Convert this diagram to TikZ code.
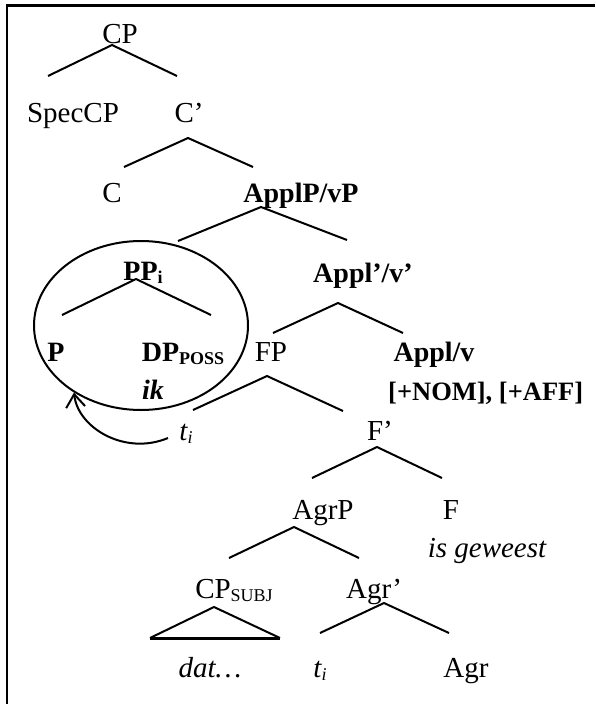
\documentclass[tikz,border=0pt]{standalone}
\usepackage{fontspec}
\setmainfont{Liberation Serif}
\usetikzlibrary{arrows.meta,shapes.geometric}
% lowered small subscript used for indices and category tags
\newcommand{\lowsub}[1]{\raisebox{-3pt}{\fontsize{18}{18}\selectfont #1}}
\begin{document}
\begin{tikzpicture}[x=1pt,y=-1pt,
  lbl/.style={inner sep=0pt, anchor=base, font=\fontsize{29}{34}\selectfont},
  blbl/.style={inner sep=0pt, anchor=base, font=\fontsize{28}{34}\selectfont\bfseries},
  ilbl/.style={inner sep=0pt, anchor=base, font=\fontsize{29}{34}\selectfont\itshape},
  branch/.style={line width=2pt},
  boxline/.style={line width=2.4pt},
  ring/.style={ellipse, draw, line width=2pt, inner sep=0pt,
               minimum width=214pt, minimum height=169pt},
  move/.style={line width=2pt, -{Straight Barb[length=13pt,width=19pt,line width=2pt]}}]
\useasboundingbox (0,0) rectangle (595,704);

% open frame: left and top edges
\draw[boxline] (7,704) -- (7,5.5) -- (595,5.5);

% ---- labels ----
\node[lbl]  (cp)      at (120,43)  {CP};
\node[lbl]  (speccp)  at (73,122)  {SpecCP};
\node[lbl]  (cbar)    at (189,122) {C’};
\node[lbl]  (c)       at (112,202) {C};
\node[blbl] (applp)   at (301,202) {ApplP/vP};
\node[blbl] (pp)      at (143,280) {PP\lowsub{i}};
\node[blbl] (applbar) at (363,282) {Appl’/v’};
\node[blbl] (p)       at (56,361)  {P};
\node[blbl] (dp)      at (183,361) {DP\lowsub{POSS}};
\node[lbl]  (fp)      at (271,361) {FP};
\node[blbl] (applv)   at (434,361) {Appl/v};
\node[blbl, anchor=base west, font=\fontsize{26.5}{32}\selectfont\bfseries] (feat) at (388,400) {[+NOM], [+AFF]};
\node[blbl, font=\fontsize{28}{34}\selectfont\bfseries\itshape] (ik) at (153,399) {ik};
\node[ilbl] (t1)      at (186,440) {t\lowsub{i}};
\node[lbl]  (fbar)    at (380,440) {F’};
\node[lbl]  (agrp)    at (323,519) {AgrP};
\node[lbl]  (f)       at (451,519) {F};
\node[ilbl] (isg)     at (487,557) {is geweest};
\node[lbl]  (cpsubj)  at (234,598) {CP\lowsub{SUBJ}};
\node[lbl]  (agrbar)  at (374,598) {Agr’};
\node[ilbl] (dat)     at (210,677) {dat…};
\node[ilbl] (t2)      at (320,677) {t\lowsub{i}};
\node[lbl]  (agr)     at (466,677) {Agr};

% ---- branch points ----
\coordinate (cpL) at (48,76);   \coordinate (cpA) at (112,45);  \coordinate (cpR) at (177,76);
\coordinate (cbL) at (124,167); \coordinate (cbA) at (188,138); \coordinate (cbR) at (253,167);
\coordinate (apL) at (178,241); \coordinate (apA) at (261,207); \coordinate (apR) at (347,240);
\coordinate (ppL) at (62,315);  \coordinate (ppA) at (136,279); \coordinate (ppR) at (211,315);
\coordinate (abL) at (273,333); \coordinate (abA) at (338,303); \coordinate (abR) at (403,333);
\coordinate (fpL) at (193,410); \coordinate (fpA) at (267,376); \coordinate (fpR) at (343,411);
\coordinate (fbL) at (312,478); \coordinate (fbA) at (377,447); \coordinate (fbR) at (442,478);
\coordinate (agL) at (229,558); \coordinate (agA) at (294,527); \coordinate (agR) at (359,558);
\coordinate (grL) at (320,633); \coordinate (grA) at (384,603); \coordinate (grR) at (449,633);
\coordinate (trL) at (150,638); \coordinate (trA) at (214,607); \coordinate (trR) at (280,638);

\draw[branch] (cpL) -- (cpA) -- (cpR);
\draw[branch] (cbL) -- (cbA) -- (cbR);
\draw[branch] (apL) -- (apA) -- (apR);
\draw[branch] (ppL) -- (ppA) -- (ppR);
\draw[branch] (abL) -- (abA) -- (abR);
\draw[branch] (fpL) -- (fpA) -- (fpR);
\draw[branch] (fbL) -- (fbA) -- (fbR);
\draw[branch] (agL) -- (agA) -- (agR);
\draw[branch] (grL) -- (grA) -- (grR);

% roof over the embedded clause
\draw[branch] (trL) -- (trA) -- (trR);
\draw[line width=3pt] (trL) -- (trR);

% circled moved constituent and its movement arrow
\node[ring] (circ) at (141,325.5) {};
\coordinate (mvstart) at (168,438);
\draw[move] (mvstart) .. controls (125,456) and (78,428) .. (circ.225.6);
\end{tikzpicture}
\end{document}
